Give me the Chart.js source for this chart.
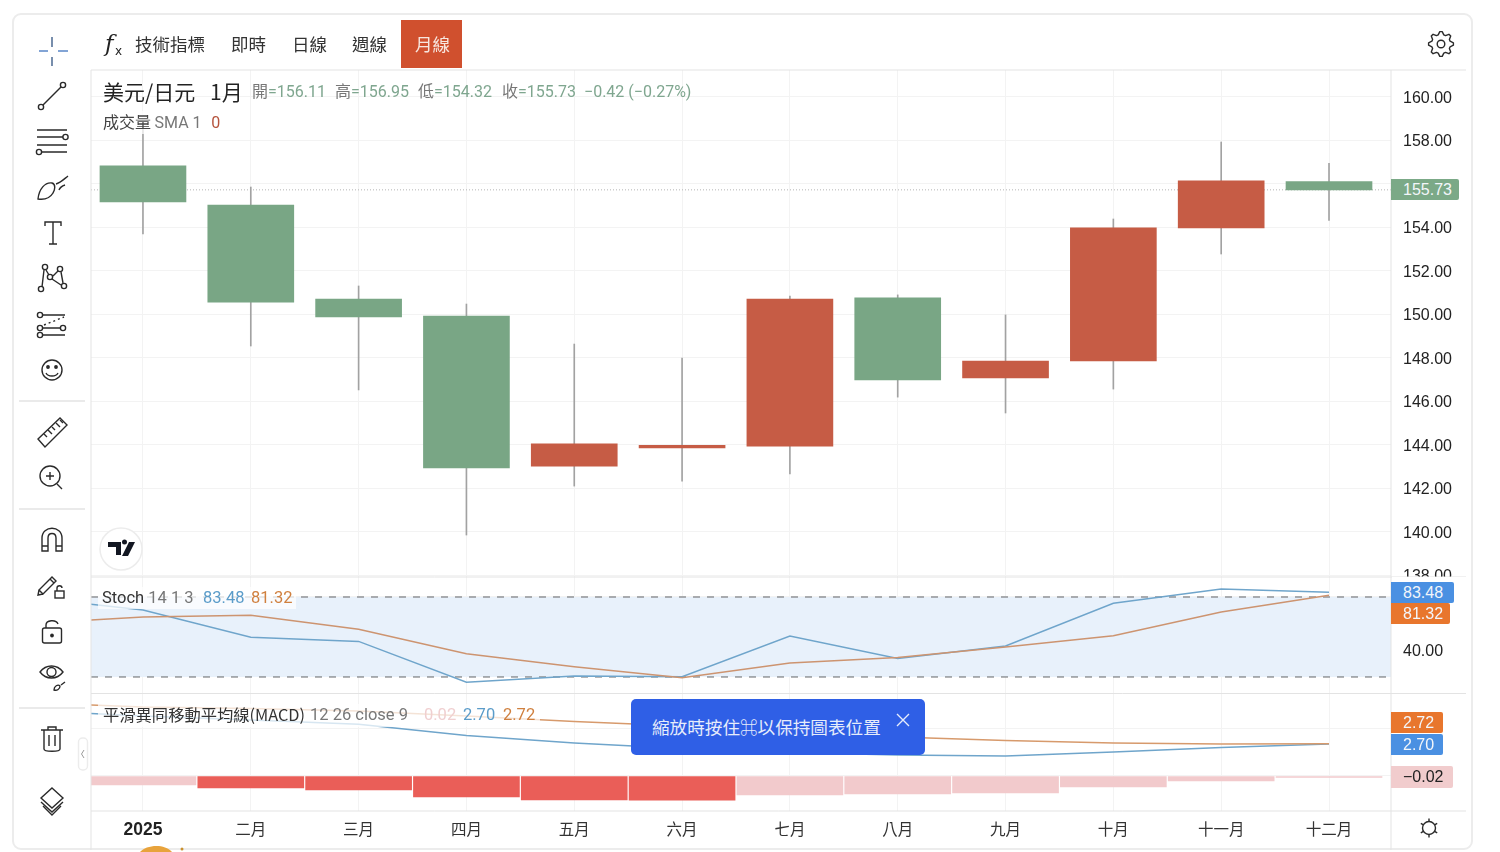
<!DOCTYPE html>
<html>
<head>
<meta charset="utf-8">
<style>
  html, body { margin: 0; padding: 0; background: #fff; }
  body { width: 1500px; height: 852px; position: relative; overflow: hidden; font-family: "Noto Sans CJK TC", sans-serif; }
  #card { position: absolute; left: 12px; top: 13px; width: 1457px; height: 833px; border: 2px solid #ececec; border-radius: 9px; }
  canvas { position: absolute; left: 0; top: 0; }
  #icons { position: absolute; left: 0; top: 0; }
  .t { position: absolute; white-space: nowrap; line-height: 1; }
  .tab { font-size: 17.5px; color: #333; top: 35px; }
  .legend-bg { position: absolute; background: rgba(255,255,255,.72); }
  .ohlc { font-family: "Roboto", sans-serif; font-size: 16px; color: #7fa68f; top: 84px; }
  .ohlc b { font-family: "Noto Sans CJK TC"; font-weight: 400; color: #777; line-height: 0; }
  .tag { position: absolute; left: 1391px; color: #f3f6fa; font-family: "Liberation Sans", sans-serif; font-size: 16px; text-align: left; padding-left: 12px; box-sizing: border-box; border-radius: 0 2px 2px 0; }
  #toast { position: absolute; left: 631px; top: 699px; width: 294px; height: 56px; background: #2f5fe6; border-radius: 5px; color: #e6ecfb; font-size: 17.6px; line-height: 56px; padding-left: 21px; box-sizing: border-box; }
</style>
</head>
<body>
<div id="card"></div>
<canvas id="chart" width="1500" height="852"></canvas>

<div style="position:absolute;left:401px;top:20px;width:61px;height:48px;background:#d0502e"></div>
<div class="t tab" style="left:135px">技術指標</div>
<div class="t tab" style="left:231px">即時</div>
<div class="t tab" style="left:292px">日線</div>
<div class="t tab" style="left:352px">週線</div>
<div class="t tab" style="left:415px;color:#f7e6df">月線</div>

<div class="t" style="left:103px;top:81px;font-size:21px;color:#222">美元/日元</div>
<div class="t" style="left:210px;top:81px;font-size:21px;color:#222">1月</div>
<div class="t ohlc" style="left:252px"><b>開</b>=156.11</div>
<div class="t ohlc" style="left:335px"><b>高</b>=156.95</div>
<div class="t ohlc" style="left:418px"><b>低</b>=154.32</div>
<div class="t ohlc" style="left:502px"><b>收</b>=155.73</div>
<div class="t ohlc" style="left:584px">−0.42 (−0.27%)</div>

<div class="legend-bg" style="left:98px;top:111px;width:122px;height:23px"></div>
<div class="t" style="left:103px;top:113px;font-size:16px;color:#444">成交量 <span style="color:#777;font-family:Roboto">SMA 1</span> <span style="color:#b5533c;font-family:Roboto;margin-left:6px">0</span></div>

<div class="legend-bg" style="left:98px;top:587px;width:198px;height:22px"></div>
<div class="t" style="left:102px;top:590px;font-size:16.5px;color:#333;font-family:Roboto">Stoch <span style="color:#777">14 1 3</span></div>
<div class="t" style="left:203px;top:590px;font-size:16.5px;color:#5b9cc9;font-family:Roboto">83.48</div>
<div class="t" style="left:251px;top:590px;font-size:16.5px;color:#d0803f;font-family:Roboto">81.32</div>

<div class="legend-bg" style="left:98px;top:704px;width:442px;height:23px"></div>
<div class="t" style="left:103px;top:706px;font-size:16.3px;color:#333">平滑異同移動平均線(MACD)</div>
<div class="t" style="left:310px;top:707px;font-size:16.5px;color:#777;font-family:Roboto">12 26 close 9</div>
<div class="t" style="left:424px;top:707px;font-size:16.5px;color:#f0cfd0;font-family:Roboto">0.02</div>
<div class="t" style="left:463px;top:707px;font-size:16.5px;color:#5b9cc9;font-family:Roboto">2.70</div>
<div class="t" style="left:503px;top:707px;font-size:16.5px;color:#d0803f;font-family:Roboto">2.72</div>

<div style="position:absolute;left:1392px;top:577px;width:74px;height:8px;background:#fff"></div>
<div class="tag" style="top:179px;width:68px;height:21px;line-height:21px;background:#7ba987">155.73</div>
<div class="tag" style="top:582px;width:63px;height:21px;line-height:21px;background:#4a90e2">83.48</div>
<div class="tag" style="top:603px;width:59px;height:21px;line-height:21px;background:#e8762d">81.32</div>
<div class="tag" style="top:712px;width:52px;height:21px;line-height:21px;background:#e8762d">2.72</div>
<div class="tag" style="top:734px;width:52px;height:21px;line-height:21px;background:#4a90e2">2.70</div>
<div class="tag" style="top:766px;width:62px;height:22px;line-height:22px;background:#f1cccd;color:#222">−0.02</div>

<div id="toast">縮放時按住⌘以保持圖表位置</div>

<svg id="icons" width="1500" height="852" fill="none" stroke="#2a2a2a" stroke-width="1.4">
  <!-- f(x) button -->
  <text x="105" y="51" font-family="DejaVu Serif" font-style="italic" font-size="23" fill="#222" stroke="none">f</text>
  <text x="115" y="55" font-family="DejaVu Sans" font-size="12" fill="#222" stroke="none">x</text>

  <!-- crosshair -->
  <path d="M52 37V47M52 57V66" stroke="#3f5f8a"/>
  <path d="M39 51H48M58 51H68" stroke="#5a86c8"/>
  <!-- trend line -->
  <circle cx="41" cy="107" r="2.6"/><circle cx="63" cy="85" r="2.6"/><path d="M43 105L61 87"/>
  <!-- fib -->
  <path d="M37 130H67M37 137H63M37 145H67M42 152H67"/><circle cx="65.5" cy="137" r="2.6"/><circle cx="39" cy="152" r="2.6"/>
  <!-- brush -->
  <path d="M38 199C39 189 45 182 52 183C56 184 55 190 53 193C50 198 45 200 38 199Z"/><path d="M56 184C60 183 63 180 68 176"/><path d="M59 190C60 187 62 186 65 185"/>
  <!-- text -->
  <path d="M45 226V222H61V226M53 222V244M49 244H57"/>
  <!-- pattern -->
  <circle cx="45" cy="267" r="2.6"/><circle cx="60" cy="269" r="2.6"/><circle cx="50" cy="277" r="2.6"/><circle cx="64" cy="286" r="2.6"/><circle cx="41" cy="289" r="2.6"/>
  <path d="M46 270L49 275M53 276L58 271M61 272L63 283M52 279L61 285M42 287L44 270"/>
  <!-- forecast -->
  <circle cx="40" cy="315" r="2.6"/><circle cx="40" cy="328" r="2.6"/><circle cx="63" cy="328" r="2.6"/><circle cx="40" cy="335" r="2.6"/>
  <path d="M43 315H65M43 328H60M43 335H65"/><path d="M44 325L64 317" stroke-dasharray="2 3"/>
  <!-- emoji -->
  <circle cx="52" cy="370" r="10"/><circle cx="48" cy="367" r="1.2" fill="#222"/><circle cx="56" cy="367" r="1.2" fill="#222"/><path d="M46 373C48 377 56 377 58 373"/>

  <path d="M19 401H85M19 509H85M19 708H85" stroke="#e4e4e4"/>

  <!-- ruler -->
  <path d="M38 439L60 418L67 425L45 447Z"/><path d="M44 434L47 437M48 430L52 434M52 427L55 430M56 423L60 427M60 420L63 423"/>
  <!-- zoom -->
  <circle cx="50" cy="476" r="10"/><path d="M46 476H54M50 472V480M57 484L62 489"/>
  <!-- magnet -->
  <path d="M42 551V538C42 525 62 525 62 538V551H56V538C56 532 48 532 48 538V551ZM42 546H48M56 546H62"/>
  <!-- pencil with lock -->
  <path d="M39 590L43 594L56 581L52 577ZM50 579L54 583M39 590L38 595L43 594"/><rect x="55" y="591" width="9" height="7"/><path d="M57 591V588C57 585 62 585 62 588"/>
  <!-- unlock -->
  <rect x="42.500" y="628" width="19" height="15" rx="2"/><path d="M46 628V625C46 620 56 619 58 624"/><circle cx="52" cy="635.500" r="1.200" fill="#222"/>
  <!-- eye -->
  <path d="M40 672C46 664 57 664 63 672C57 680 46 680 40 672Z"/><circle cx="51.500" cy="672" r="4.500"/><path d="M54 690C54 686 58 684 60 686C60 689 57 691 54 690ZM61 685L65 682"/>
  <!-- trash -->
  <path d="M41 730H63M44 730V749C44 752 60 752 60 749V730M48 730V727H56V730M49 735V746M55 735V746"/>
  <!-- layers -->
  <path d="M52 788L63 798L52 808L41 798Z"/><path d="M41 802L52 812L63 802M43 806L52 815L61 806"/>
  <!-- collapse handle -->
  <rect x="78.500" y="738" width="9" height="32" rx="4" stroke="#ececec"/><path d="M84 750L81.500 754L84 758" stroke="#999" stroke-width="1"/>

  <!-- settings cog -->
  <g id="cog"></g>
  <!-- theme switch -->
  <g id="sun"></g>

  <!-- chart logo badge -->
  <circle cx="121" cy="549" r="21" fill="#fff" stroke="#ececec" stroke-width="1.500"/>
  <path d="M108 542H121V555H116V547H108ZM129 542H135L128 556H122ZM122 542A2.500 2.500 0 1 0 127 542A2.500 2.500 0 1 0 122 542" fill="#131722" stroke="none"/>

  <!-- toast close -->
  <path d="M897 714L909 726M909 714L897 726" stroke="#e6ecfb"/>

  <!-- badge peeking under the card -->
  <path d="M140 852C146 845 164 843 172 852Z" fill="#e8a33c" stroke="none"/>
  <circle cx="182" cy="849" r="1.500" fill="#c9902f" stroke="none"/>
</svg>

<script src="https://cdn.jsdelivr.net/npm/chart.js@4"></script>
<script>
/* months, x = -1 is the Dec 2024 bar that sits just off the left edge */
const monthLabels = ["2025", "二月", "三月", "四月", "五月", "六月", "七月", "八月", "九月", "十月", "十一月", "十二月"];
const monthIndex = [0, 1, 2, 3, 4, 5, 6, 7, 8, 9, 10, 11];
const lineIndex = [-1, 0, 1, 2, 3, 4, 5, 6, 7, 8, 9, 10, 11];

/* USD/JPY monthly candles */
const open  = [156.83, 155.03, 150.71, 149.93, 143.03, 143.86, 143.95, 150.76, 147.08, 147.86, 153.98, 156.11];
const high  = [158.80, 155.86, 151.31, 150.48, 148.64, 148.00, 150.85, 150.90, 149.98, 154.39, 157.93, 156.95];
const low   = [153.70, 148.55, 146.53, 139.86, 142.11, 142.34, 142.67, 146.20, 145.47, 146.57, 152.78, 154.32];
const close = [155.17, 150.57, 149.89, 142.94, 144.05, 143.98, 150.71, 146.99, 147.86, 153.98, 156.14, 155.73];

const priceTicks = [160, 158, 156, 154, 152, 150, 148, 146, 144, 142, 140, 138];
const lastClose = 155.73;

/* Stochastic 14 1 3 */
const stochK = [79.0, 70.3, 49.8, 46.7, 16.0, 20.7, 20.2, 50.7, 33.9, 43.2, 75.3, 86.0, 83.48];
const stochD = [60.5, 65.0, 66.3, 55.8, 37.5, 27.7, 19.5, 30.5, 34.6, 42.5, 51.0, 68.7, 81.32];
const stochBand = [20, 80];
const stochTicks = [40, 80];

/* MACD 12 26 close 9 */
const macdLine = [5.51, 5.08, 4.75, 4.38, 3.42, 2.80, 2.33, 1.99, 1.78, 1.69, 2.03, 2.42, 2.70];
const signalLine = [6.19, 5.85, 5.72, 5.51, 5.08, 4.62, 4.24, 3.73, 3.31, 3.01, 2.80, 2.71, 2.72];
const macdHist = [-0.76, -1.02, -1.19, -1.78, -2.03, -2.05, -1.61, -1.53, -1.44, -0.93, -0.42, -0.02];
const histFalling = [false, true, true, true, true, true, false, false, false, false, false, false];
const macdTicks = [0, 4];

const RED = "#c65c45", GREEN = "#79a685", GRID = "#f3f3f3", LINE = "#e3e3e3";
const BLUE_LINE = "#6fa5cb", ORANGE_LINE = "#cd9470";

/* stoch band, last price line and pane separators */
const paneDecor = {
  id: "paneDecor",
  beforeDatasetsDraw(chart) {
    const { ctx, chartArea: a, scales } = chart;
    const s = scales.stoch;
    const y80 = s.getPixelForValue(stochBand[1]), y20 = s.getPixelForValue(stochBand[0]);
    ctx.save();
    ctx.fillStyle = "#e8f1fb";
    ctx.fillRect(a.left, y80, a.width, y20 - y80);
    ctx.strokeStyle = "#7b7d80";
    ctx.lineWidth = 1.2;
    ctx.setLineDash([7, 7]);
    [y80, y20].forEach((y) => {
      ctx.beginPath();
      ctx.moveTo(a.left, y);
      ctx.lineTo(a.right, y);
      ctx.stroke();
    });
    ctx.strokeStyle = "#b4b4b4";
    ctx.lineWidth = 1;
    ctx.setLineDash([1, 2]);
    const yLast = scales.price.getPixelForValue(lastClose);
    ctx.beginPath();
    ctx.moveTo(a.left, yLast);
    ctx.lineTo(a.right, yLast);
    ctx.stroke();
    ctx.restore();
  },
  afterDraw(chart) {
    const { ctx, chartArea: a, scales } = chart;
    ctx.save();
    ctx.strokeStyle = LINE;
    ctx.lineWidth = 1;
    [a.top, scales.price.bottom, scales.stoch.bottom, a.bottom].forEach((y) => {
      ctx.beginPath();
      ctx.moveTo(a.left, y);
      ctx.lineTo(scales.price.right, y);
      ctx.stroke();
    });
    [a.left, a.right].forEach((x) => {
      ctx.beginPath();
      ctx.moveTo(x, a.top);
      ctx.lineTo(x, 850);
      ctx.stroke();
    });
    ctx.restore();
  },
};

const sideAxis = (stack, weight, min, max, ticks) => ({
  type: "linear",
  position: "right",
  stack: "panes",
  stackWeight: weight,
  min,
  max,
  afterBuildTicks: (scale) => { scale.ticks = ticks.map((value) => ({ value })); },
  afterFit: (scale) => { scale.width = 75; },
  grid: { color: GRID, drawTicks: false },
  border: { display: false },
  ticks: {
    autoSkip: false,
    padding: 12,
    labelOffset: 1.5,
    color: "#222",
    font: { family: "Liberation Sans", size: 16 },
    callback: (v) => (stack === "stoch" && v === 40) || (stack === "price" && v !== 156) ? v.toFixed(2) : "",
  },
});

new Chart(document.getElementById("chart"), {
  data: {
    datasets: [
      {
        type: "bar",
        label: "body",
        yAxisID: "price",
        order: 1,
        grouped: false,
        barThickness: 86,
        data: monthIndex.map((i) => ({ x: i, y: [open[i], close[i]] })),
        backgroundColor: monthIndex.map((i) => (close[i] >= open[i] ? RED : GREEN)),
      },
      {
        type: "bar",
        label: "wick",
        yAxisID: "price",
        order: 2,
        grouped: false,
        barThickness: 1,
        data: monthIndex.map((i) => ({ x: i, y: [low[i], high[i]] })),
        backgroundColor: "#a2a2a2",
      },
      {
        type: "line",
        label: "%D",
        yAxisID: "stoch",
        data: lineIndex.map((x, i) => ({ x, y: stochD[i] })),
        borderColor: ORANGE_LINE,
        borderWidth: 1.5,
        pointRadius: 0,
      },
      {
        type: "line",
        label: "%K",
        yAxisID: "stoch",
        data: lineIndex.map((x, i) => ({ x, y: stochK[i] })),
        borderColor: BLUE_LINE,
        borderWidth: 1.5,
        pointRadius: 0,
      },
      {
        type: "line",
        label: "signal",
        yAxisID: "macd",
        data: lineIndex.map((x, i) => ({ x, y: signalLine[i] })),
        borderColor: "#d79a6c",
        borderWidth: 1.5,
        pointRadius: 0,
      },
      {
        type: "line",
        label: "macd",
        yAxisID: "macd",
        data: lineIndex.map((x, i) => ({ x, y: macdLine[i] })),
        borderColor: BLUE_LINE,
        borderWidth: 1.5,
        pointRadius: 0,
      },
      {
        type: "bar",
        label: "hist",
        yAxisID: "macd",
        grouped: false,
        barThickness: 106,
        minBarLength: 1.5,
        data: monthIndex.map((i) => ({ x: i, y: macdHist[i] })),
        backgroundColor: monthIndex.map((i) => (histFalling[i] ? "#ea5e58" : "#f2cacc")),
      },
    ],
  },
  options: {
    responsive: false,
    animation: false,
    devicePixelRatio: 1,
    layout: { padding: { left: 91, top: 70, right: 34, bottom: 1 } },
    plugins: { legend: { display: false }, tooltip: { enabled: false } },
    scales: {
      x: {
        type: "linear",
        position: "bottom",
        offset: false,
        min: -0.482,
        max: 11.575,
        afterBuildTicks: (scale) => { scale.ticks = monthIndex.map((value) => ({ value })); },
        afterFit: (scale) => { scale.height = 40; },
        grid: { color: GRID, drawTicks: false, offset: false },
        border: { display: false },
        ticks: {
          autoSkip: false,
          maxRotation: 0,
          padding: 9,
          color: (c) => (c.index === 0 ? "#222" : "#333"),
          font: (c) => (c.index === 0
            ? { family: "Liberation Sans", size: 17.5, weight: "bold" }
            : { family: "Noto Sans CJK TC", size: 15.5 }),
          callback: (v) => monthLabels[v],
        },
      },
      price: sideAxis("price", 507, 137.93, 161.24, priceTicks),
      stoch: sideAxis("stoch", 116.5, 7.6, 95, stochTicks),
      macd: sideAxis("macd", 117.5, -2.97, 6.99, macdTicks),
    },
  },
  plugins: [paneDecor],
});

/* toolbar cog and theme icons */
function cogPath(cx, cy, rOut, rIn, teeth) {
  let d = "";
  for (let i = 0; i < teeth * 4; i++) {
    const r = i % 4 < 2 ? rOut : rIn;
    const a = ((i - 0.5) * Math.PI) / (teeth * 2);
    d += (i ? "L" : "M") + (cx + r * Math.cos(a)).toFixed(1) + " " + (cy + r * Math.sin(a)).toFixed(1);
  }
  return d + "Z";
}
function sunRays(cx, cy, r0, r1, n) {
  let d = "";
  for (let i = 0; i < n; i++) {
    const a = (i * 2 * Math.PI) / n - Math.PI / 2;
    d += "M" + (cx + r0 * Math.cos(a)).toFixed(1) + " " + (cy + r0 * Math.sin(a)).toFixed(1) +
      "L" + (cx + r1 * Math.cos(a)).toFixed(1) + " " + (cy + r1 * Math.sin(a)).toFixed(1);
  }
  return d;
}
document.getElementById("cog").innerHTML =
  `<path d="${cogPath(1441, 44, 12.5, 9.5, 8)}" stroke-linejoin="round"/><circle cx="1441" cy="44" r="3.8"/>`;
document.getElementById("sun").innerHTML =
  `<circle cx="1429" cy="828" r="6.5"/><path d="${sunRays(1429, 828, 6.5, 9.5, 6)}"/>`;
</script>
</body>
</html>
